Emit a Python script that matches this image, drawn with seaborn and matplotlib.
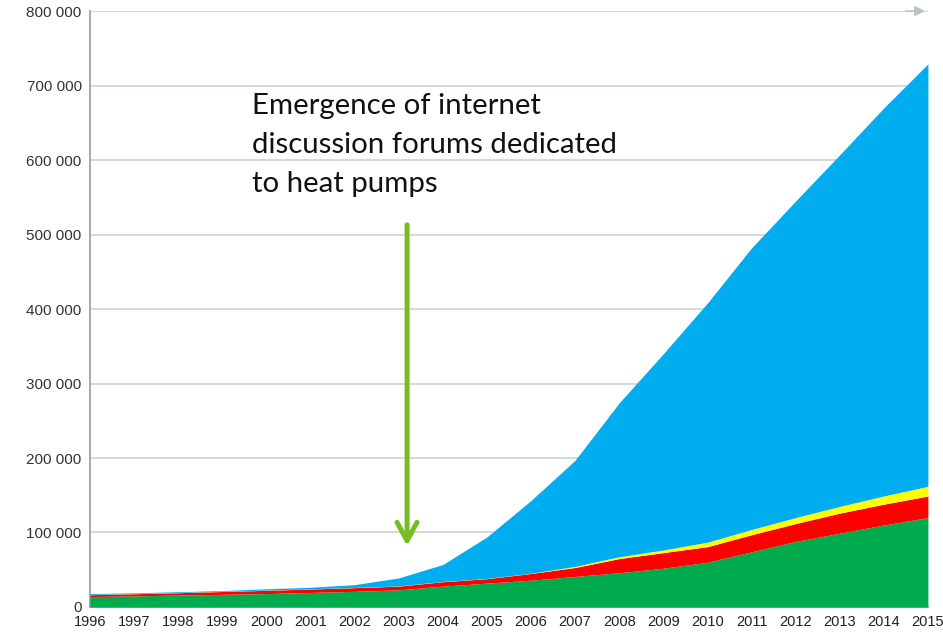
import matplotlib
matplotlib.use("Agg")
import matplotlib.pyplot as plt
from matplotlib.ticker import FuncFormatter
import seaborn as sns
import pandas as pd

# Installed heat pumps by type (cumulative units)
years = list(range(1996, 2016))
ground_source = [14000, 15000, 16000, 17000, 18000, 19500, 21000, 23000, 28000, 32000,
                 36000, 41000, 46000, 52000, 60000, 74000, 88000, 99000, 110000, 120000]
exhaust_air = [2500, 2800, 3200, 3800, 4400, 4700, 5000, 5000, 6000, 6000,
               9000, 12000, 19000, 21000, 21000, 23000, 24000, 27000, 28000, 29000]
air_water = [300, 300, 300, 300, 300, 300, 300, 300, 300, 300,
             300, 1500, 2500, 3500, 6000, 7000, 8000, 9000, 11000, 13000]
total = [18000, 19000, 20500, 22000, 24500, 26500, 30000, 39000, 57000, 94000,
         143000, 197000, 274000, 340000, 408000, 482000, 545000, 607000, 670000, 729000]
air_air = [t - g - e - a for t, g, e, a in zip(total, ground_source, exhaust_air, air_water)]

y_ticks = list(range(0, 800001, 100000))

df = pd.DataFrame({"year": years, "ground": ground_source, "exhaust": exhaust_air,
                   "airwater": air_water, "airair": air_air})

sns.set_theme(style="white")
plt.rcParams["font.family"] = ["Liberation Sans", "DejaVu Sans"]

fig = plt.figure(figsize=(9.43, 6.34), dpi=100)
ax = fig.add_axes([0.0954, 0.0426, 0.8886, 0.94])

colors = ["#00ab4e", "#ff0000", "#ffff00", "#00aeef"]
ax.stackplot(df["year"], df["ground"], df["exhaust"], df["airwater"], df["airair"],
             colors=colors, linewidth=0, zorder=3)

ax.set_xlim(1996, 2015)
ax.set_ylim(0, 800000)
ax.set_xticks(years)
ax.set_yticks(y_ticks)
ax.yaxis.set_major_formatter(FuncFormatter(lambda v, _: f"{int(v):,}".replace(",", " ")))
ax.tick_params(axis="both", colors="#333333", length=4, width=1,
               direction="out", pad=2)
ax.tick_params(axis="y", labelsize=11)
ax.tick_params(axis="x", labelsize=10.5)
ax.tick_params(axis="both", color="#999999")
ax.set_xticklabels([str(y) for y in years], color="#222222")

ax.grid(axis="y", color="#c9d2da", linewidth=1.2, zorder=0)
ax.set_axisbelow(True)
for side in ["top", "right"]:
    ax.spines[side].set_visible(False)
for side in ["left", "bottom"]:
    ax.spines[side].set_color("#999999")
    ax.spines[side].set_linewidth(1.2)

# arrowhead at the end of the top gridline
ax.annotate("", xy=(1.0, 1.0), xycoords="axes fraction",
            xytext=(0.97, 1.0), textcoords="axes fraction",
            arrowprops=dict(arrowstyle="-|>,head_length=0.5,head_width=0.25",
                            color="#b8c3cc", lw=1.2), zorder=1)

ax.text(1999.67, 690500, "Emergence of internet\ndiscussion forums dedicated\nto heat pumps",
        fontsize=21.2, family=["Lato", "DejaVu Sans"], color="#111111",
        va="top", ha="left", linespacing=1.62, zorder=5)

ax.annotate("", xy=(2003.19, 82000), xytext=(2003.19, 513000),
            arrowprops=dict(arrowstyle="->,head_length=1.1,head_width=0.6",
                            color="#77bd22", lw=3.6, shrinkA=0, shrinkB=0),
            zorder=6)

fig.savefig("out.png", dpi=100)
